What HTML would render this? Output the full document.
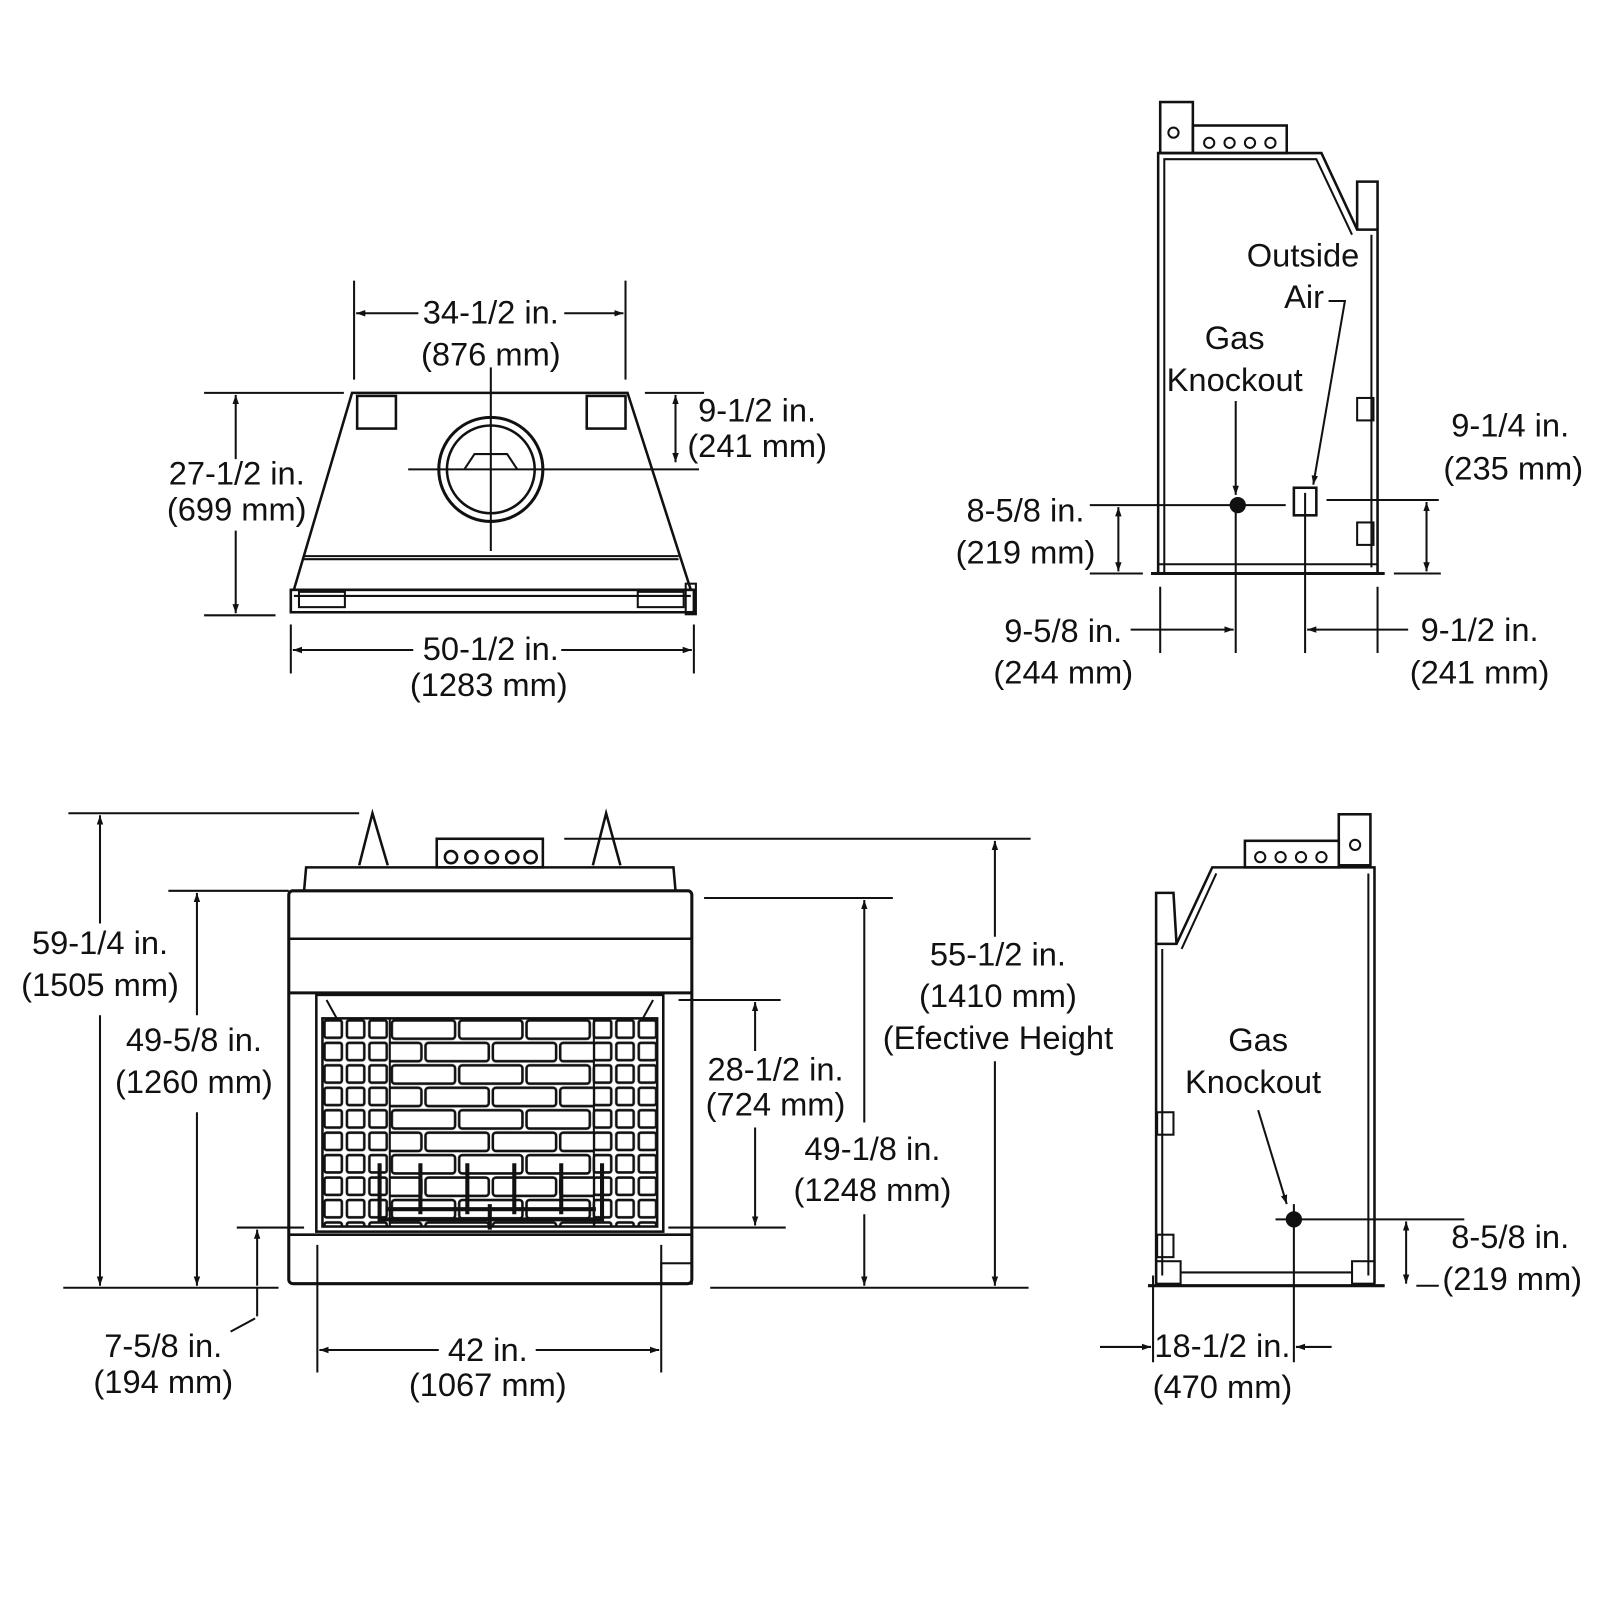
<!DOCTYPE html>
<html><head><style>
html,body{margin:0;padding:0;background:#fff;}
svg{display:block;}
text{font-family:"Liberation Sans",Arial,sans-serif;font-size:32px;fill:#111;}
</style></head><body>
<svg width="1600" height="1600" viewBox="0 0 1568 1568" xmlns="http://www.w3.org/2000/svg">
<defs>
<marker id="a" viewBox="0 0 10 10" refX="10" refY="5" markerWidth="9" markerHeight="9" orient="auto-start-reverse" markerUnits="userSpaceOnUse"><path d="M0,1.5 L10,5 L0,8.5 z" fill="#111"/></marker>
<pattern id="brick" x="316" y="998" width="132" height="44" patternUnits="userSpaceOnUse">
<rect x="2" y="2" width="62" height="18" rx="3" fill="none" stroke="#111" stroke-width="2.5"/>
<rect x="68" y="2" width="62" height="18" rx="3" fill="none" stroke="#111" stroke-width="2.5"/>
<rect x="-31" y="24" width="62" height="18" rx="3" fill="none" stroke="#111" stroke-width="2.5"/>
<rect x="35" y="24" width="62" height="18" rx="3" fill="none" stroke="#111" stroke-width="2.5"/>
<rect x="101" y="24" width="62" height="18" rx="3" fill="none" stroke="#111" stroke-width="2.5"/>
</pattern>
<pattern id="sbrick" x="316" y="998" width="22" height="22" patternUnits="userSpaceOnUse">
<rect x="2" y="2" width="17" height="17" rx="2" fill="none" stroke="#111" stroke-width="2.5"/>
</pattern>
</defs>
<g stroke="#111" stroke-width="2" fill="none">
<!-- TOP VIEW -->
<path d="M345,385 L615,385 L677,578 L288,578 Z" stroke-width="2.5"/>
<line x1="298" y1="545" x2="665" y2="545"/>
<line x1="298" y1="548" x2="665" y2="548"/>
<rect x="285" y="578" width="395" height="22" stroke-width="2.5"/>
<line x1="288" y1="584" x2="677" y2="584"/>
<rect x="350" y="388" width="38" height="32" stroke-width="2.5"/>
<rect x="575" y="388" width="38" height="32" stroke-width="2.5"/>
<rect x="293" y="580" width="45" height="15"/>
<rect x="625" y="580" width="45" height="15"/>
<rect x="672" y="572" width="10" height="30"/>
<circle cx="481" cy="460" r="51" stroke-width="3"/>
<circle cx="481" cy="460" r="43" stroke-width="2.5"/>
<path d="M455,460 L465,445 L497,445 L507,460" />
<line x1="481" y1="360" x2="481" y2="540"/>
<line x1="400" y1="460" x2="685" y2="460"/>
<!-- top dims -->
<line x1="347" y1="275" x2="347" y2="372"/>
<line x1="613" y1="275" x2="613" y2="372"/>
<line x1="349" y1="307" x2="410" y2="307" marker-start="url(#a)"/>
<line x1="553" y1="307" x2="611" y2="307" marker-end="url(#a)"/>
<line x1="200" y1="385" x2="337" y2="385"/>
<line x1="200" y1="603" x2="270" y2="603"/>
<line x1="231" y1="387" x2="231" y2="450" marker-start="url(#a)"/>
<line x1="231" y1="520" x2="231" y2="601" marker-end="url(#a)"/>
<line x1="632" y1="385" x2="690" y2="385"/>
<line x1="662" y1="387" x2="662" y2="453" marker-start="url(#a)" marker-end="url(#a)"/>
<line x1="285" y1="612" x2="285" y2="660"/>
<line x1="680" y1="612" x2="680" y2="660"/>
<line x1="287" y1="637" x2="405" y2="637" marker-start="url(#a)"/>
<line x1="550" y1="637" x2="678" y2="637" marker-end="url(#a)"/>

<!-- SIDE VIEW TOP RIGHT -->
<rect x="1137" y="100" width="32" height="50" stroke-width="2.5"/>
<rect x="1169" y="123" width="92" height="27" stroke-width="2.5"/>
<circle cx="1150" cy="130" r="5"/><circle cx="1185" cy="140" r="5"/><circle cx="1205" cy="140" r="5"/><circle cx="1225" cy="140" r="5"/><circle cx="1245" cy="140" r="5"/>
<path d="M1135,562 L1135,150 L1295,150 L1330,225 L1350,225 L1350,562" stroke-width="2.5"/>
<path d="M1141,562 L1141,156 L1290,156 L1325,230"/>
<path d="M1330,225 L1330,178 L1350,178 L1350,225" stroke-width="2.5"/>
<line x1="1344" y1="230" x2="1344" y2="556"/>
<rect x="1330" y="390" width="16" height="22"/>
<rect x="1330" y="512" width="16" height="22"/>
<line x1="1128" y1="562" x2="1357" y2="562" stroke-width="3"/>
<line x1="1135" y1="553" x2="1350" y2="553"/>
<circle cx="1213" cy="495" r="7" fill="#111"/>
<rect x="1268" y="478" width="22" height="27" stroke-width="2.5"/>
<line x1="1211" y1="393" x2="1211" y2="485" marker-end="url(#a)"/>
<path d="M1302,295 L1318,295 L1287,475" marker-end="url(#a)"/>
<line x1="1068" y1="495" x2="1260" y2="495"/>
<line x1="1068" y1="562" x2="1120" y2="562"/>
<line x1="1096" y1="497" x2="1096" y2="560" marker-start="url(#a)" marker-end="url(#a)"/>
<line x1="1300" y1="490" x2="1410" y2="490"/>
<line x1="1366" y1="562" x2="1412" y2="562"/>
<line x1="1398" y1="492" x2="1398" y2="560" marker-start="url(#a)" marker-end="url(#a)"/>
<line x1="1137" y1="575" x2="1137" y2="640"/>
<line x1="1211" y1="500" x2="1211" y2="640"/>
<line x1="1108" y1="617" x2="1209" y2="617" marker-end="url(#a)"/>
<line x1="1279" y1="483" x2="1279" y2="640"/>
<line x1="1350" y1="575" x2="1350" y2="640"/>
<line x1="1281" y1="617" x2="1380" y2="617" marker-start="url(#a)"/>

<!-- FRONT VIEW -->
<path d="M352,848 L365,797 L380,848 M581,848 L594,797 L608,848" stroke-width="2.5"/>
<rect x="428" y="822" width="104" height="28" stroke-width="2.5"/>
<g stroke-width="2.5"><circle cx="442" cy="840" r="6"/><circle cx="462" cy="840" r="6"/><circle cx="482" cy="840" r="6"/><circle cx="502" cy="840" r="6"/><circle cx="520" cy="840" r="6"/></g>
<path d="M298,873 L300,850 L660,850 L662,873" stroke-width="2.5"/>
<rect x="283" y="873" width="395" height="385" rx="4" stroke-width="3"/>
<line x1="283" y1="920" x2="678" y2="920" stroke-width="2.5"/>
<line x1="283" y1="973" x2="678" y2="973" stroke-width="3"/>
<rect x="310" y="975" width="340" height="232" stroke-width="2.5"/>
<rect x="316" y="998" width="328" height="204" stroke-width="2.5"/>
<path d="M320,980 L330,998 M640,980 L630,998"/>
<rect x="316" y="998" width="66" height="204" fill="url(#sbrick)" stroke="none"/>
<rect x="582" y="998" width="62" height="204" fill="url(#sbrick)" stroke="none"/>
<rect x="382" y="998" width="200" height="204" fill="url(#brick)" stroke="none"/>
<line x1="382" y1="998" x2="382" y2="1202"/><line x1="582" y1="998" x2="582" y2="1202"/>
<g stroke-width="4"><path d="M372,1140 L372,1195 L590,1195 L590,1140"/><path d="M412,1140 L412,1190 M458,1140 L458,1190 M504,1140 L504,1190 M550,1140 L550,1190"/><path d="M378,1185 L584,1185 M480,1180 L480,1205"/></g>
<line x1="283" y1="1210" x2="678" y2="1210" stroke-width="2.5"/>
<rect x="648" y="1238" width="30" height="20" stroke-width="2"/>
<!-- front dims -->
<line x1="67" y1="797" x2="352" y2="797"/>
<line x1="62" y1="1262" x2="273" y2="1262"/>
<line x1="98" y1="799" x2="98" y2="905" marker-start="url(#a)"/>
<line x1="98" y1="995" x2="98" y2="1260" marker-end="url(#a)"/>
<line x1="165" y1="873" x2="283" y2="873"/>
<line x1="193" y1="875" x2="193" y2="995" marker-start="url(#a)"/>
<line x1="193" y1="1090" x2="193" y2="1260" marker-end="url(#a)"/>
<line x1="232" y1="1203" x2="298" y2="1203"/>
<line x1="252" y1="1205" x2="252" y2="1260" marker-start="url(#a)"/>
<line x1="252" y1="1262" x2="252" y2="1290"/>
<line x1="250" y1="1292" x2="226" y2="1305"/>
<line x1="311" y1="1220" x2="311" y2="1345"/>
<line x1="648" y1="1220" x2="648" y2="1345"/>
<line x1="313" y1="1323" x2="430" y2="1323" marker-start="url(#a)"/>
<line x1="525" y1="1323" x2="646" y2="1323" marker-end="url(#a)"/>
<line x1="665" y1="980" x2="765" y2="980"/>
<line x1="655" y1="1203" x2="770" y2="1203"/>
<line x1="740" y1="982" x2="740" y2="1030" marker-start="url(#a)"/>
<line x1="740" y1="1105" x2="740" y2="1201" marker-end="url(#a)"/>
<line x1="690" y1="880" x2="875" y2="880"/>
<line x1="847" y1="882" x2="847" y2="1100" marker-start="url(#a)"/>
<line x1="847" y1="1190" x2="847" y2="1260" marker-end="url(#a)"/>
<line x1="696" y1="1262" x2="1008" y2="1262"/>
<line x1="553" y1="822" x2="1010" y2="822"/>
<line x1="975" y1="824" x2="975" y2="918" marker-start="url(#a)"/>
<line x1="975" y1="1040" x2="975" y2="1260" marker-end="url(#a)"/>

<!-- SIDE VIEW BOTTOM RIGHT -->
<rect x="1312" y="798" width="31" height="50" stroke-width="2.5"/>
<circle cx="1328" cy="828" r="5"/>
<rect x="1220" y="824" width="92" height="26" stroke-width="2.5"/>
<g><circle cx="1235" cy="840" r="5"/><circle cx="1255" cy="840" r="5"/><circle cx="1275" cy="840" r="5"/><circle cx="1295" cy="840" r="5"/></g>
<path d="M1347,1258 L1347,850 L1188,850 L1153,925 L1133,925 L1133,1258" stroke-width="2.5"/>
<path d="M1341,856 L1341,1250 M1192,856 L1158,930"/>
<path d="M1133,925 L1133,875 L1150,875 L1153,925" stroke-width="2.5"/>
<line x1="1139" y1="930" x2="1139" y2="1250"/>
<rect x="1134" y="1090" width="16" height="22"/>
<rect x="1134" y="1210" width="16" height="22"/>
<rect x="1133" y="1236" width="24" height="22"/>
<rect x="1325" y="1236" width="22" height="22"/>
<line x1="1157" y1="1247" x2="1325" y2="1247"/>
<line x1="1125" y1="1260" x2="1357" y2="1260" stroke-width="3"/>
<circle cx="1268" cy="1195" r="7" fill="#111"/>
<line x1="1233" y1="1088" x2="1261" y2="1180" marker-end="url(#a)"/>
<line x1="1250" y1="1195" x2="1435" y2="1195"/>
<line x1="1388" y1="1260" x2="1410" y2="1260"/>
<line x1="1378" y1="1197" x2="1378" y2="1258" marker-start="url(#a)" marker-end="url(#a)"/>
<line x1="1268" y1="1180" x2="1268" y2="1335"/>
<line x1="1130" y1="1250" x2="1130" y2="1335"/>
<line x1="1078" y1="1320" x2="1128" y2="1320" marker-end="url(#a)"/>
<line x1="1305" y1="1320" x2="1270" y2="1320" marker-end="url(#a)"/>
</g>
<g text-anchor="middle">
<text x="481" y="317">34-1/2 in.</text><text x="481" y="358">(876 mm)</text>
<text x="232" y="475">27-1/2 in.</text><text x="232" y="510">(699 mm)</text>
<text x="742" y="413">9-1/2 in.</text><text x="742" y="448">(241 mm)</text>
<text x="481" y="647">50-1/2 in.</text><text x="479" y="682">(1283 mm)</text>
<text x="1277" y="261">Outside</text><text x="1278" y="302">Air</text>
<text x="1210" y="342">Gas</text><text x="1210" y="383">Knockout</text>
<text x="1005" y="511">8-5/8 in.</text><text x="1005" y="552">(219 mm)</text>
<text x="1480" y="428">9-1/4 in.</text><text x="1483" y="470">(235 mm)</text>
<text x="1042" y="629">9-5/8 in.</text><text x="1042" y="670">(244 mm)</text>
<text x="1450" y="628">9-1/2 in.</text><text x="1450" y="670">(241 mm)</text>
<text x="98" y="935">59-1/4 in.</text><text x="98" y="976">(1505 mm)</text>
<text x="190" y="1030">49-5/8 in.</text><text x="190" y="1071">(1260 mm)</text>
<text x="160" y="1330">7-5/8 in.</text><text x="160" y="1365">(194 mm)</text>
<text x="478" y="1334">42 in.</text><text x="478" y="1368">(1067 mm)</text>
<text x="760" y="1059">28-1/2 in.</text><text x="760" y="1093">(724 mm)</text>
<text x="855" y="1137">49-1/8 in.</text><text x="855" y="1177">(1248 mm)</text>
<text x="978" y="946">55-1/2 in.</text><text x="978" y="987">(1410 mm)</text><text x="978" y="1028">(Efective Height</text>
<text x="1233" y="1030">Gas</text><text x="1228" y="1071">Knockout</text>
<text x="1480" y="1223">8-5/8 in.</text><text x="1482" y="1264">(219 mm)</text>
<text x="1198" y="1330">18-1/2 in.</text><text x="1198" y="1370">(470 mm)</text>
</g>
</svg>
</body></html>
